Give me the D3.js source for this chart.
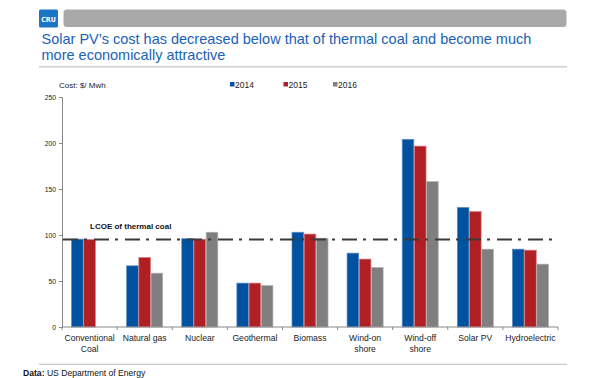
<!DOCTYPE html>
<html>
<head>
<meta charset="utf-8">
<script src="https://cdn.jsdelivr.net/npm/d3@7"></script>
<style>
html,body{margin:0;padding:0;background:#fff;}
svg{display:block;font-family:"Liberation Sans",Arial,sans-serif;}
</style>
</head>
<body>
<svg id="chart" width="602" height="378"></svg>
<script>
const categories = [["Conventional","Coal"],["Natural gas"],["Nuclear"],["Geothermal"],["Biomass"],["Wind-on","shore"],["Wind-off","shore"],["Solar PV"],["Hydroelectric"]];
const seriesNames = ["2014","2015","2016"];
const values2014 = [95.5, 66.5, 96, 47.7, 103, 80.3, 204, 130, 84.6];
const values2015 = [95, 75.5, 95.4, 47.7, 101, 73.8, 196.6, 125.4, 83.5];
const values2016 = [null, 58.5, 103, 45, 96.5, 64.7, 158, 84.6, 68.3];
const yTicks = [0, 50, 100, 150, 200, 250];
const lcoeValue = 95;
const colors = ["#0052a0", "#b01f24", "#7f7f7f"];
const strokes = ["#5d8fc4", "#d9777a", "#b0b0b0"];

const svg = d3.select("#chart");
const catKeys = categories.map(c => c.join(" "));
const series = [values2014, values2015, values2016];

// header
svg.append("rect").attr("x",39).attr("y",9.5).attr("width",19).attr("height",18).attr("rx",1.5).attr("fill","#1c74c4");
svg.append("text").attr("x",48.5).attr("y",21.5).attr("text-anchor","middle").attr("fill","#fff")
  .attr("font-size",7).attr("font-weight","bold").attr("font-family","'Liberation Sans Narrow','DejaVu Sans Condensed',sans-serif").text("CRU");
svg.append("rect").attr("x",63.5).attr("y",9.5).attr("width",503).attr("height",17.5).attr("rx",3.5).attr("fill","#a9a9a9");

svg.append("text").attr("x",41.5).attr("y",44.3).attr("font-size",14.5).attr("fill","#1a62b5")
  .text("Solar PV\u2019s cost has decreased below that of thermal coal and become much");
svg.append("text").attr("x",41.5).attr("y",60.3).attr("font-size",14.5).attr("fill","#1a62b5")
  .text("more economically attractive");
svg.append("line").attr("x1",39).attr("x2",567).attr("y1",66.8).attr("y2",66.8).attr("stroke","#cfcfcf").attr("stroke-width",1.6);

// axis label + legend
svg.append("text").attr("x",59).attr("y",88).attr("font-size",8).attr("fill","#222").text("Cost: $/ Mwh");
const legX = [230, 283.5, 333];
seriesNames.forEach((s,i)=>{
  svg.append("rect").attr("x",legX[i]).attr("y",82).attr("width",4.5).attr("height",4.5).attr("fill",colors[i]);
  svg.append("text").attr("x",legX[i]+5).attr("y",88).attr("font-size",8.5).attr("fill","#222").text(s);
});

// scales
const x0 = d3.scaleBand().domain(catKeys).range([62, 558]).paddingInner(0.335).paddingOuter(0.1675);
const x1 = d3.scaleBand().domain(seriesNames).range([0, x0.bandwidth()]);
const y = d3.scaleLinear().domain([0, 250]).range([327, 97]);

// bars
categories.forEach((c,ci)=>{
  series.forEach((vals,si)=>{
    const v = vals[ci];
    if (v == null) return;
    svg.append("rect")
      .attr("x", x0(catKeys[ci]) + x1(seriesNames[si]) + 0.3)
      .attr("y", y(v))
      .attr("width", x1.bandwidth() - 0.6)
      .attr("height", y(0) - y(v))
      .attr("fill", colors[si])
      .attr("stroke", strokes[si]).attr("stroke-width", 0.7);
  });
});

// y axis
const yAxis = svg.append("g").attr("transform","translate(62,0)")
  .call(d3.axisLeft(y).tickValues(yTicks).tickSize(3).tickPadding(3));
yAxis.select(".domain").attr("stroke","#888");
yAxis.selectAll(".tick line").attr("stroke","#888");
yAxis.selectAll(".tick text").attr("font-size",6.8).attr("fill","#222").attr("font-family","'Liberation Sans',Arial,sans-serif");

// x axis
const xAxis = svg.append("g").attr("transform","translate(0,327)");
xAxis.append("line").attr("x1",62).attr("x2",558).attr("stroke","#888");
const step = x0.step();
d3.range(0, categories.length + 1).forEach(i=>{
  const xx = 62 + i*step;
  xAxis.append("line").attr("x1",xx).attr("x2",xx).attr("y1",0).attr("y2",3).attr("stroke","#888");
});
categories.forEach((c,ci)=>{
  const cx = x0(catKeys[ci]) + x0.bandwidth()/2;
  const t = xAxis.append("text").attr("text-anchor","middle").attr("font-size",8.6).attr("fill","#222");
  c.forEach((line,li)=>{
    t.append("tspan").attr("x",cx).attr("y",14 + li*10.5).text(line);
  });
});

// LCOE line
svg.append("line").attr("x1",63).attr("x2",556).attr("y1",y(lcoeValue)).attr("y2",y(lcoeValue))
  .attr("stroke","#3a3a3a").attr("stroke-width",2).attr("stroke-dasharray","15,6,3,7");
svg.append("text").attr("x",90).attr("y",228.5).attr("font-size",8).attr("font-weight","bold").attr("fill","#111").text("LCOE of thermal coal");

// footer
svg.append("line").attr("x1",39).attr("x2",567).attr("y1",364.3).attr("y2",364.3).attr("stroke","#bdbdbd").attr("stroke-width",1);
const ft = svg.append("text").attr("x",23).attr("y",375.5).attr("font-size",8.6).attr("fill","#111");
ft.append("tspan").attr("font-weight","bold").text("Data: ");
ft.append("tspan").text("US Department of Energy");
</script>
</body>
</html>
